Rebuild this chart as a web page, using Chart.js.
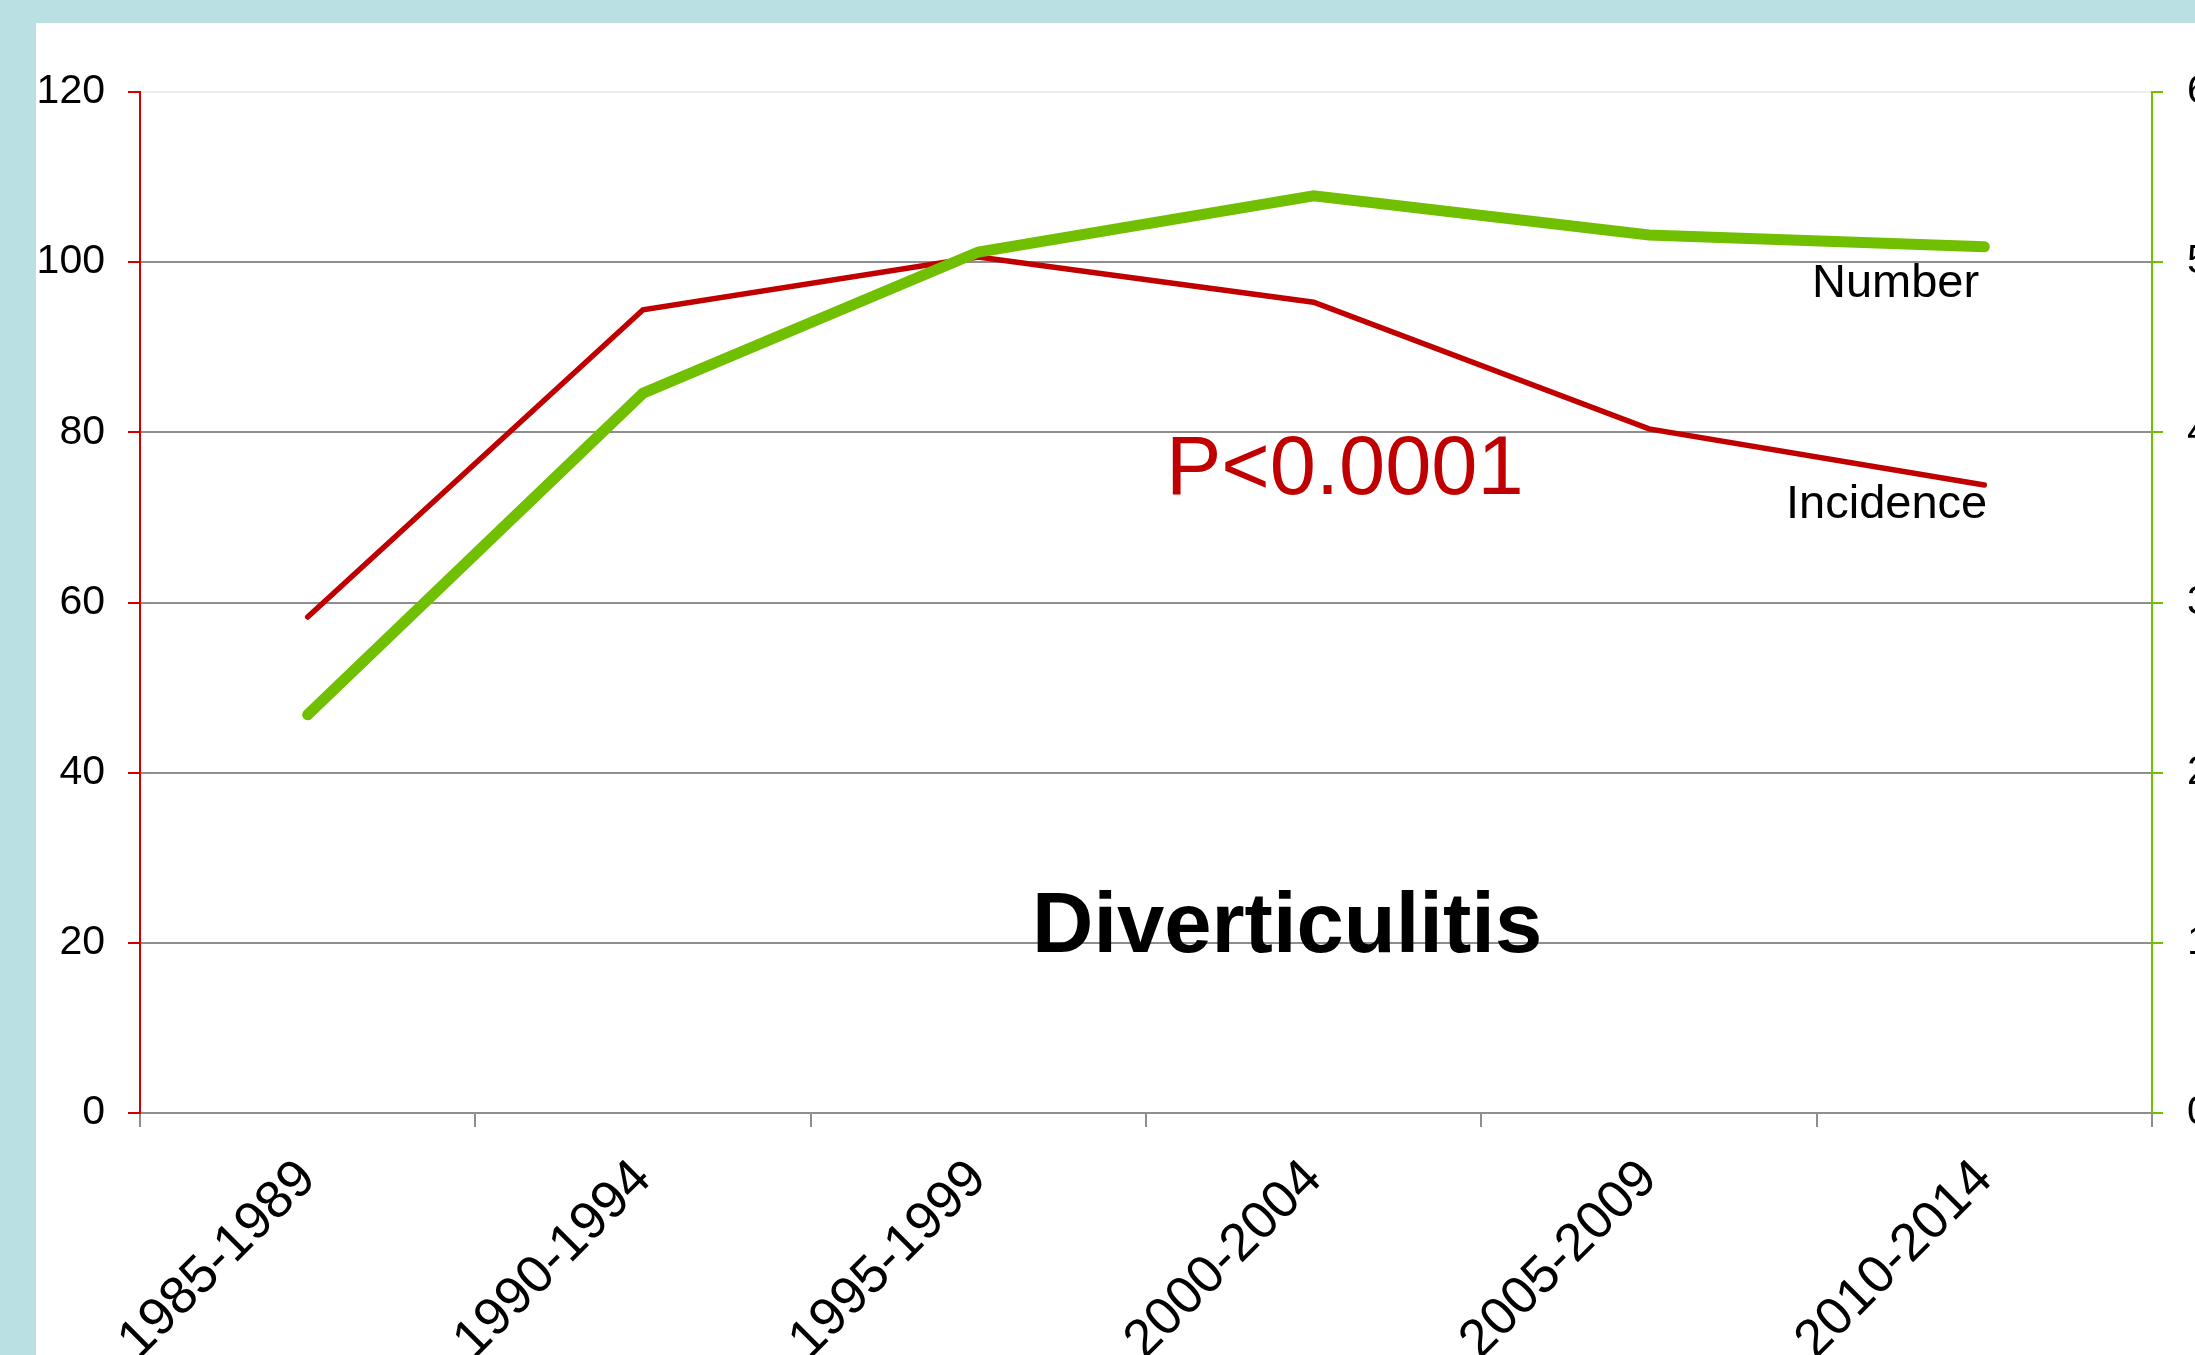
<!DOCTYPE html>
<html>
<head>
<meta charset="utf-8">
<script src="https://cdn.jsdelivr.net/npm/chart.js@4/dist/chart.umd.min.js"></script>
<style>
  html, body { margin: 0; padding: 0; overflow: hidden; }
  body { width: 2195px; height: 1355px; background: #bbe0e3; position: relative; font-family: "Liberation Sans", Arial, sans-serif; }
  .sheet { position: absolute; left: 36px; top: 23px; width: 2159px; height: 1332px; background: #fff; overflow: hidden; }
  #myChart { position: absolute; left: 0; top: 0; }
  .note { position: absolute; line-height: 1; white-space: nowrap; }
</style>
</head>
<body>
<div class="sheet">
  <canvas id="myChart" width="2264" height="1332"></canvas>
  <div class="note" style="left:1130px; top:401px; font-size:83px; color:#c00000;">P&lt;0.0001</div>
  <div class="note" style="left:996px; top:857px; font-size:85px; font-weight:bold; color:#000;">Diverticulitis</div>
  <div class="note" style="left:1776px; top:234px; font-size:47px; color:#000;">Number</div>
  <div class="note" style="left:1750px; top:455px; font-size:47px; color:#000;">Incidence</div>
</div>
<script>
// 5-year periods
var periods = ['1985-1989', '1990-1994', '1995-1999', '2000-2004', '2005-2009', '2010-2014'];
// incidence (left axis)
var incidence = [58.3, 94.4, 100.6, 95.3, 80.4, 73.8];
// number of cases (right axis, labels cut off at the edge)
var number = [234, 423, 506, 539, 516, 509];

var font = "'Liberation Sans', Arial, sans-serif";
var gridGray = '#8e8e8e';

new Chart("myChart", {
  type: "line",
  data: {
    labels: periods,
    datasets: [{
      label: 'Incidence',
      data: incidence,
      yAxisID: 'y',
      borderColor: '#c00000',
      borderWidth: 5.5,
      borderCapStyle: 'round',
      pointRadius: 0,
      fill: false,
      order: 1
    }, {
      label: 'Number',
      data: number,
      yAxisID: 'y2',
      borderColor: '#70bf00',
      borderWidth: 11,
      borderCapStyle: 'round',
      pointRadius: 0,
      fill: false,
      order: 0
    }]
  },
  options: {
    responsive: false,
    animation: false,
    layout: { padding: { top: 69, left: 0, right: 0, bottom: 0 } },
    plugins: { legend: { display: false }, tooltip: { enabled: false } },
    scales: {
      x: {
        offset: true,
        grid: { offset: true, drawOnChartArea: false, color: gridGray, lineWidth: 2, tickLength: 14 },
        border: { color: gridGray, width: 2 },
        ticks: { color: '#000', font: { family: font, size: 53 }, minRotation: 45, maxRotation: 45, padding: 21 },
        afterFit: function(s) { s.height = 242; }
      },
      y: {
        position: 'left',
        min: 0, max: 120,
        ticks: { stepSize: 20, color: '#000', font: { family: font, size: 41 }, padding: 23 },
        grid: {
          lineWidth: 2,
          tickLength: 12,
          tickColor: '#d00000',
          color: function(c) { return c.tick && c.tick.value === 120 ? '#ededed' : gridGray; }
        },
        border: { color: '#d00000', width: 2 },
        afterFit: function(s) { s.width = 104; }
      },
      y2: {
        position: 'right',
        min: 0, max: 600,
        ticks: { stepSize: 100, color: '#000', font: { family: font, size: 41 }, padding: 24 },
        grid: { drawOnChartArea: false, lineWidth: 2, tickLength: 11, color: '#70bf00' },
        border: { color: '#70bf00', width: 2 },
        afterFit: function(s) { s.width = 148; }
      }
    }
  }
});
</script>
</body>
</html>
